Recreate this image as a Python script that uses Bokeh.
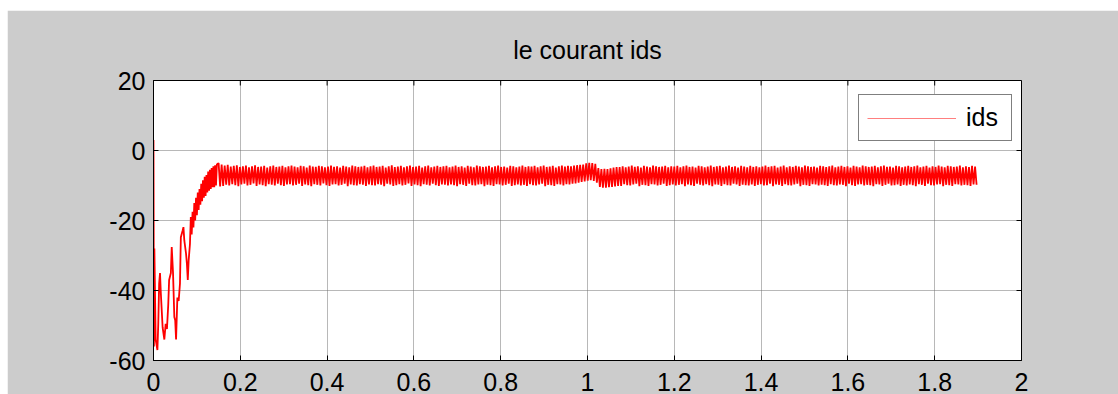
import numpy as np
from bokeh.plotting import figure
from bokeh.models import FixedTicker, Legend, LegendItem, Range1d
from bokeh.embed import file_html
from bokeh.resources import INLINE

# ---------------------------------------------------------------------------
# Stator current ids (A) versus time (s)
# ---------------------------------------------------------------------------

# start-up transient, sampled irregularly
t_start = [0.000, 0.001, 0.002, 0.005, 0.009, 0.011, 0.013, 0.015, 0.017, 0.021,
           0.025, 0.028, 0.031, 0.034, 0.036, 0.040, 0.042, 0.045, 0.048, 0.050,
           0.052, 0.055, 0.058, 0.061, 0.063, 0.067, 0.069, 0.071, 0.075, 0.077,
           0.079, 0.081, 0.084, 0.086, 0.088, 0.090, 0.092, 0.094, 0.096, 0.098,
           0.100, 0.102, 0.104, 0.106, 0.108, 0.110, 0.112, 0.114, 0.116, 0.118,
           0.120, 0.122, 0.124, 0.126, 0.128, 0.130, 0.132, 0.134, 0.136, 0.138,
           0.140, 0.142, 0.144, 0.146]
ids_start = [3.0, -56.0, -28.0, -54.0, -57.0, -49.5, -38.0, -35.0, -41.0, -50.5,
             -54.0, -49.5, -51.0, -44.0, -37.0, -35.0, -27.6, -35.0, -47.6, -48.5,
             -54.0, -42.0, -43.0, -38.0, -24.8, -22.9, -21.9, -25.7, -29.5, -32.4,
             -37.0, -31.4, -26.7, -19.0, -24.0, -17.5, -22.0, -15.0, -20.0, -13.5,
             -18.5, -12.0, -17.0, -11.0, -15.5, -9.5, -14.5, -8.5, -13.5, -7.5,
             -13.0, -7.0, -12.0, -6.0, -11.5, -5.5, -11.0, -5.0, -10.5, -4.5,
             -10.5, -4.2, -10.0, -4.0]

# steady ripple: one maximum and one minimum per ripple period
RIPPLE_T0 = 0.150      # s, first ripple maximum
RIPPLE_PERIOD = 0.007  # s

ids_max = [
    -3.6, -4.0, -4.3, -4.1, -4.6, -4.4, -4.2, -4.7, -4.5, -4.3, -4.8, -4.5, -4.2, -4.7, -4.6, -4.4, -4.9, -4.5, -4.3, -4.7, -4.6, -4.4, -4.8, -4.5, -4.3,
    -4.6, -4.8, -4.4, -4.5, -4.9, -4.3, -4.6, -4.7, -4.4, -4.5, -4.8, -4.6, -4.3, -4.7, -4.5, -4.9, -4.4, -4.6, -4.8, -4.3, -4.5, -4.7, -4.6, -4.4, -4.8,
    -4.5, -4.3, -4.7, -4.6, -4.4, -4.9, -4.5, -4.2, -4.7, -4.6, -4.4, -4.8, -4.5, -4.3, -4.7, -4.6, -4.4, -4.9, -4.5, -4.3, -4.8, -4.6, -4.4, -4.7, -4.5,
    -4.4, -4.8, -4.6, -4.3, -4.7, -4.5, -4.9, -4.4, -4.6, -4.8, -4.3, -4.5, -4.7, -4.6, -4.4, -4.8, -4.5, -4.3, -4.7, -4.6, -4.9, -4.4, -4.5, -4.8, -4.6,
    -4.3, -4.7, -4.5, -4.6, -4.4, -4.8, -4.5, -4.3, -4.7, -4.6, -4.4, -4.9, -4.5, -4.3, -4.6, -4.4, -4.5, -4.3, -4.2, -4.1, -4.0, -3.7, -3.5, -3.6, -3.8,
    -5.0, -5.3, -5.2, -5.3, -5.1, -4.9, -4.7, -4.7, -4.5, -4.8, -4.6, -4.3, -4.7, -4.5, -4.9, -4.4, -4.6, -4.8, -4.3, -4.5, -4.7, -4.6, -4.4, -4.8, -4.5,
    -4.6, -4.4, -4.8, -4.5, -4.3, -4.7, -4.6, -4.9, -4.4, -4.5, -4.8, -4.6, -4.3, -4.7, -4.5, -4.4, -4.8, -4.6, -4.3, -4.7, -4.5, -4.9, -4.4, -4.6, -4.8,
    -4.4, -4.7, -4.5, -4.8, -4.6, -4.3, -4.7, -4.5, -4.4, -4.9, -4.6, -4.3, -4.8, -4.5, -4.7, -4.4, -4.6, -4.8, -4.3, -4.5, -4.7, -4.6, -4.9, -4.4, -4.5,
    -4.7, -4.5, -4.3, -4.8, -4.6, -4.4, -4.7, -4.5, -4.9, -4.4, -4.6, -4.8, -4.3, -4.5, -4.7, -4.6, -4.4, -4.8, -4.5, -4.3, -4.7, -4.6, -4.9, -4.4, -4.5,
    -4.8, -4.6, -4.4, -4.7, -4.5, -4.3, -4.8, -4.6, -4.4, -4.9, -4.5, -4.7, -4.3, -4.6, -4.8, -4.4, -4.5, -4.7, -4.6, -4.3, -4.8, -4.5, -4.7, -4.4, -4.6,
]
ids_min = [
    -10.3, -10.1, -9.8, -10.0, -9.6, -9.9, -10.2, -9.7, -9.5, -10.0, -9.8, -9.4, -10.1, -9.7, -9.9, -10.2, -9.6, -9.8, -10.0, -9.5, -9.9, -10.1, -9.7, -9.6, -10.0,
    -9.8, -9.5, -10.1, -9.7, -9.9, -10.2, -9.6, -9.8, -10.0, -9.4, -9.9, -10.1, -9.7, -9.6, -10.0, -9.8, -9.5, -10.2, -9.7, -9.9, -10.0, -9.6, -9.8, -10.1, -9.7,
    -9.9, -10.0, -9.6, -9.8, -10.2, -9.5, -9.7, -10.1, -9.9, -9.6, -10.0, -9.8, -9.4, -10.1, -9.7, -9.9, -10.2, -9.6, -9.8, -10.0, -9.5, -9.9, -10.1, -9.7, -9.8,
    -10.0, -9.7, -9.9, -10.2, -9.6, -9.8, -10.1, -9.5, -9.9, -10.0, -9.7, -9.6, -10.2, -9.8, -9.9, -10.1, -9.6, -9.7, -10.0, -9.8, -9.5, -10.1, -9.9, -9.7, -10.0,
    -9.8, -10.1, -9.6, -9.9, -10.0, -9.7, -9.5, -10.2, -9.8, -9.9, -10.1, -9.6, -9.7, -10.0, -9.6, -9.7, -9.5, -9.4, -9.2, -9.0, -8.8, -8.6, -8.5, -8.7, -9.2,
    -10.4, -10.6, -10.6, -10.5, -10.4, -10.3, -10.1, -10.1, -9.6, -9.9, -10.0, -9.7, -9.5, -10.2, -9.8, -9.9, -10.1, -9.6, -9.7, -10.0, -9.8, -9.5, -10.1, -9.9, -9.7,
    -10.0, -9.8, -9.6, -10.2, -9.7, -9.9, -10.1, -9.5, -9.8, -10.0, -9.6, -9.9, -10.2, -9.7, -9.8, -10.1, -9.6, -9.9, -10.0, -9.5, -9.7, -10.1, -9.8, -9.9, -10.0,
    -9.7, -10.1, -9.8, -9.6, -10.0, -9.9, -9.5, -10.2, -9.7, -9.8, -10.1, -9.6, -9.9, -10.0, -9.7, -9.5, -10.2, -9.8, -9.9, -10.1, -9.6, -9.7, -10.0, -9.8, -9.9,
    -10.1, -9.6, -9.9, -10.0, -9.7, -9.8, -10.2, -9.5, -9.9, -10.1, -9.7, -9.6, -10.0, -9.8, -9.9, -10.2, -9.6, -9.7, -10.1, -9.8, -9.5, -10.0, -9.9, -9.7, -10.1,
    -9.8, -10.0, -9.7, -9.9, -10.2, -9.6, -9.8, -10.1, -9.5, -9.9, -10.0, -9.7, -9.6, -10.2, -9.8, -9.9, -10.1, -9.6, -9.7, -10.0, -9.8, -9.9, -10.1, -9.7, -9.8,
]

x_ticks = [0.0, 0.2, 0.4, 0.6, 0.8, 1.0, 1.2, 1.4, 1.6, 1.8, 2.0]
x_tick_labels = ["0", "0.2", "0.4", "0.6", "0.8", "1", "1.2", "1.4", "1.6", "1.8", "2"]
y_ticks = [-60, -40, -20, 0, 20]
y_tick_labels = ["-60", "-40", "-20", "0", "20"]

# ---------------------------------------------------------------------------
# assemble the full trace: transient, then max/min samples interleaved
# ---------------------------------------------------------------------------
n = min(len(ids_max), len(ids_min))
t_max = RIPPLE_T0 + RIPPLE_PERIOD * np.arange(n)
t_min = t_max + RIPPLE_PERIOD / 2
t_ripple = np.column_stack([t_max, t_min]).ravel()
ids_ripple = np.column_stack([ids_max[:n], ids_min[:n]]).ravel()

t = np.concatenate([np.array(t_start), t_ripple])
ids = np.concatenate([np.array(ids_start), ids_ripple])

FONT = "Liberation Sans"
FS = "25px"
GREY = "#cccccc"
X0, X1 = 0, 2
Y0, Y1 = -60, 20
FRAME_W, FRAME_H = 868, 280
TICK_PX = 5

p = figure(width=1111, height=384, output_backend="svg", toolbar_location=None,
           x_range=Range1d(X0, X1), y_range=Range1d(Y0, Y1),
           min_border_left=146, min_border_right=97,
           min_border_top=70, min_border_bottom=34,
           background_fill_color="white", border_fill_color=GREY,
           outline_line_color="black", outline_line_width=1)
p.margin = (10, 0, 0, 7)

p.title.text = "le courant ids"
p.title.align = "center"
p.title.text_font = FONT
p.title.text_font_size = FS
p.title.text_font_style = "normal"
p.title.text_color = "black"
p.title.standoff = 34

for g in (p.xgrid[0], p.ygrid[0]):
    g.grid_line_color = "#707070"
    g.grid_line_dash = "1 1"
    g.grid_line_width = 1
p.xgrid[0].ticker = FixedTicker(ticks=x_ticks)
p.ygrid[0].ticker = FixedTicker(ticks=y_ticks)

r = p.line(t, ids, color="red", line_width=1.8)

for ax, ticks, labels in ((p.xaxis[0], x_ticks, x_tick_labels),
                          (p.yaxis[0], y_ticks, y_tick_labels)):
    ax.ticker = FixedTicker(ticks=ticks)
    ax.major_label_overrides = {tk: lb for tk, lb in zip(ticks, labels)}
    ax.major_label_text_font = FONT
    ax.major_label_text_font_size = FS
    ax.major_label_text_color = "black"
    ax.axis_line_color = "black"
    ax.major_tick_line_color = "black"
    ax.major_tick_in = TICK_PX
    ax.major_tick_out = 0
    ax.minor_tick_line_color = None
p.xaxis[0].major_label_standoff = 12
p.yaxis[0].major_label_standoff = 8

# inward tick marks on the top and right edges of the box
dx = TICK_PX * (X1 - X0) / FRAME_W
dy = TICK_PX * (Y1 - Y0) / FRAME_H
p.segment(x0=x_ticks, y0=[Y1] * len(x_ticks), x1=x_ticks, y1=[Y1 - dy] * len(x_ticks),
          line_color="black", line_width=1)
p.segment(x0=[X1] * len(y_ticks), y0=y_ticks, x1=[X1 - dx] * len(y_ticks), y1=y_ticks,
          line_color="black", line_width=1)

# thin light-red sample line used only for the legend entry
legend_key = p.line(np.array([np.nan]), np.array([np.nan]), color="#ff7f7f", line_width=1.2)

legend = Legend(items=[LegendItem(label="ids", renderers=[legend_key])],
                location=(705, 219))
legend.label_text_font = FONT
legend.label_text_font_size = FS
legend.label_text_color = "black"
legend.glyph_width = 89
legend.glyph_height = 16
legend.label_height = 16
legend.label_width = 37
legend.label_standoff = 10
legend.padding = 8
legend.spacing = 0
legend.margin = 0
legend.border_line_color = "black"
legend.border_line_width = 1
legend.background_fill_color = "white"
legend.background_fill_alpha = 1
p.add_layout(legend, "center")

open("out.html", "w").write(file_html(p, INLINE))
